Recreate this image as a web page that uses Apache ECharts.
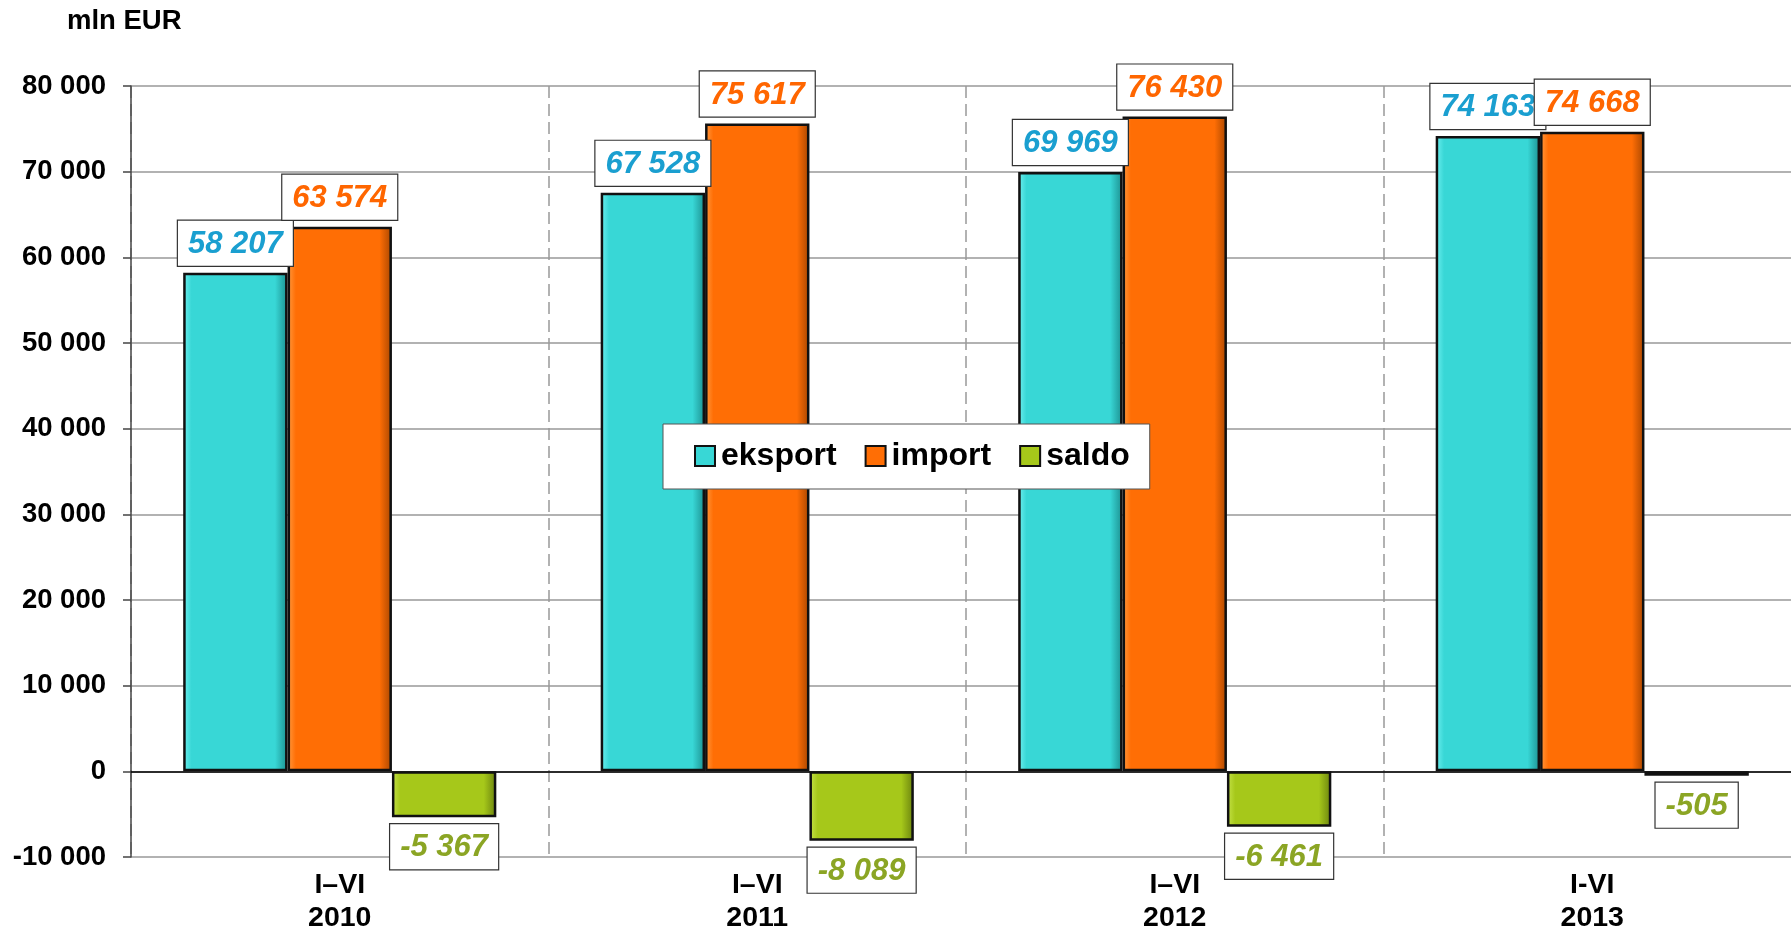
<!DOCTYPE html>
<html>
<head>
<meta charset="utf-8">
<script src="https://cdn.jsdelivr.net/npm/echarts@6/dist/echarts.min.js"></script>
<style>
html,body{margin:0;padding:0;background:#fff;}
#chart{width:1791px;height:930px;}
</style>
</head>
<body>
<div id="chart"></div>
<script>
var periods = ['I–VI', 'I–VI', 'I–VI', 'I-VI'];
var years = ['2010', '2011', '2012', '2013'];
var eksport = [58207, 67528, 69969, 74163];
var importVals = [63574, 75617, 76430, 74668];
var saldo = [-5367, -8089, -6461, -505];
var yTicks = { min: -10000, max: 80000, interval: 10000 };

var categories = periods.map(function (p, i) { return p + '\n' + years[i]; });

function fmt(v) {
  var s = String(Math.abs(v)).replace(/\B(?=(\d{3})+(?!\d))/g, ' ');
  return (v < 0 ? '-' : '') + s;
}

var FONT = '"Liberation Sans", Arial, sans-serif';

function grad(light, base, dark) {
  return new echarts.graphic.LinearGradient(0, 0, 1, 0, [
    { offset: 0, color: light },
    { offset: 0.08, color: base },
    { offset: 0.88, color: base },
    { offset: 1, color: dark }
  ]);
}

function labelCfg(color, pos) {
  return {
    show: true,
    position: pos,
    distance: 7,
    formatter: function (p) { return fmt(p.value); },
    fontFamily: FONT,
    fontSize: 31,
    lineHeight: 31,
    fontWeight: 'bold',
    fontStyle: 'italic',
    color: color,
    backgroundColor: '#ffffff',
    borderColor: '#333',
    borderWidth: 1.2,
    padding: [8, 10, 6, 10]
  };
}

var chart = echarts.init(document.getElementById('chart'));
chart.setOption({
  animation: false,
  backgroundColor: '#ffffff',
  title: {
    text: 'mln EUR',
    left: 67, top: 7, padding: 0,
    textStyle: { fontFamily: FONT, fontSize: 27.5, fontWeight: 'bold', color: '#000' }
  },
  legend: {
    left: 663, top: 424,
    padding: [16, 20, 17, 31],
    itemGap: 28,
    itemWidth: 20, itemHeight: 20,
    backgroundColor: '#ffffff',
    borderColor: '#555',
    borderWidth: 1,
    icon: 'rect',
    textStyle: { fontFamily: FONT, fontSize: 32, fontWeight: 'bold', color: '#000', padding: [0, 0, 0, 1] },
    data: ['eksport', 'import', 'saldo']
  },
  grid: { left: 131, right: -10, top: 86, bottom: 73, containLabel: false, outerBoundsMode: 'none' },
  xAxis: [{
    type: 'category',
    data: categories,
    position: 'bottom',
    axisLine: { show: false, onZero: false },
    axisTick: { show: false },
    axisLabel: {
      margin: 12,
      fontFamily: FONT, fontSize: 28.5, lineHeight: 33, fontWeight: 'bold', color: '#000'
    },
    splitLine: { show: true, lineStyle: { color: '#999', width: 1.5, type: [12, 6] } }
  }, {
    type: 'category',
    data: categories,
    position: 'bottom',
    axisLine: { show: true, onZero: true, lineStyle: { color: '#000', width: 1.5 } },
    axisTick: { show: false },
    axisLabel: { show: false },
    splitLine: { show: false }
  }],
  yAxis: {
    type: 'value',
    min: yTicks.min, max: yTicks.max, interval: yTicks.interval,
    axisLine: { show: true, lineStyle: { color: '#444', width: 1.5 } },
    axisTick: { show: true, length: 8, lineStyle: { color: '#444', width: 1.5 } },
    axisLabel: {
      margin: 25,
      formatter: function (v) { return fmt(v); },
      fontFamily: FONT, fontSize: 27.5, fontWeight: 'bold', color: '#000'
    },
    splitLine: { show: true, lineStyle: { color: '#999', width: 1.5 } }
  },
  series: [{
    name: 'eksport', type: 'bar', data: eksport,
    barGap: '0%', barCategoryGap: '25%',
    itemStyle: { color: grad('#6FF0F0', '#38D7D6', '#1C8F8F'), borderColor: '#111', borderWidth: 2.5 },
    label: labelCfg('#1A9FD0', 'top')
  }, {
    name: 'import', type: 'bar', data: importVals,
    barGap: '0%', barCategoryGap: '25%',
    itemStyle: { color: grad('#FF9A40', '#FF6E05', '#A84600'), borderColor: '#111', borderWidth: 2.5 },
    label: labelCfg('#FF6600', 'top')
  }, {
    name: 'saldo', type: 'bar', data: saldo,
    barGap: '0%', barCategoryGap: '25%',
    itemStyle: { color: grad('#C6E34A', '#A6C81A', '#6A820E'), borderColor: '#111', borderWidth: 2.5 },
    label: labelCfg('#8BA524', 'bottom')
  }]
});
</script>
</body>
</html>
